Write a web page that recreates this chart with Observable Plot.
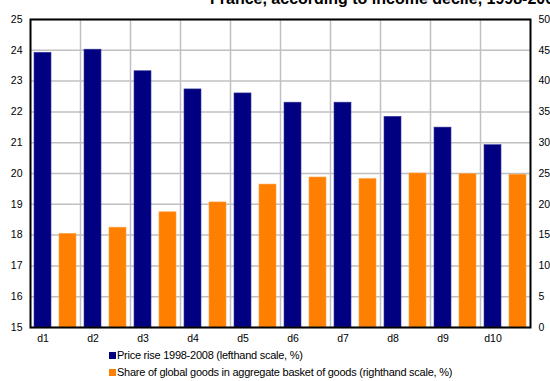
<!DOCTYPE html>
<html>
<head>
<meta charset="utf-8">
<script src="https://cdn.jsdelivr.net/npm/d3@7"></script>
<script src="https://cdn.jsdelivr.net/npm/@observablehq/plot@0.6"></script>
<style>
  html, body { margin: 0; padding: 0; background: #fff; }
  #wrap { position: relative; width: 550px; height: 381px; overflow: hidden; font-family: "Liberation Sans", Arial, sans-serif; }
  #title { position: absolute; left: 210px; top: -9.5px; font-size: 16px; line-height: 16px; font-weight: bold; white-space: nowrap; color: #000; }
  #chart { position: absolute; left: 0; top: 0; }
  .legend { position: absolute; left: 109px; font-size: 11px; letter-spacing: -0.25px; line-height: 12px; white-space: nowrap; color: #000; }
  .legend .sw { display: inline-block; width: 7px; height: 7px; margin-right: 1px; vertical-align: 0px; }
</style>
</head>
<body>
<div id="wrap">
  <div id="title">France, according to income decile, 1998-2008</div>
  <div id="chart"></div>
  <div class="legend" style="top:349px"><span class="sw" style="background:#000080"></span>Price rise 1998-2008 (lefthand scale, %)</div>
  <div class="legend" style="top:366px"><span class="sw" style="background:#ff7f00"></span>Share of global goods in aggregate basket of goods (righthand scale, %)</div>
</div>
<script>
// Income deciles
const deciles = ["d1", "d2", "d3", "d4", "d5", "d6", "d7", "d8", "d9", "d10"];
// Price rise 1998-2008, % (left axis, 15–25)
const priceRise = [23.92, 24.02, 23.32, 22.73, 22.60, 22.30, 22.30, 21.84, 21.49, 20.92];
// Share of global goods in the aggregate basket, % (right axis, 0–50)
const globalShare = [15.2, 16.2, 18.7, 20.3, 23.2, 24.35, 24.1, 25.0, 24.9, 24.8];
// Axis ticks
const leftTicks = d3.range(15, 26, 1);
const rightTicks = d3.range(0, 51, 5);

// The right axis (0–50) is drawn on the left axis' scale (15–25)
const toLeft = v => 15 + v / 5;

const rows = deciles.map((d, i) => ({
  decile: d, i, price: priceRise[i], share: globalShare[i], shareL: toLeft(globalShare[i])
}));

const chart = Plot.plot({
  width: 550,
  height: 345,
  marginTop: 19,
  marginLeft: 30,
  marginRight: 20,
  marginBottom: 18,
  style: { fontFamily: "Liberation Sans, Arial, sans-serif", fontSize: "10.5px", color: "#000", background: "transparent" },
  x: { type: "linear", domain: [0, deciles.length], axis: null, label: null },
  y: { domain: [15, 25], axis: null, label: null },
  marks: [
    Plot.gridY(leftTicks, { stroke: "#c0c0c0", strokeOpacity: 1, strokeWidth: 1.5 }),
    Plot.ruleX(d3.range(1, deciles.length), { stroke: "#c0c0c0", strokeOpacity: 1, strokeWidth: 1.5 }),
    Plot.rectY(rows, { x1: "i", x2: d => d.i + 1, y1: 15, y2: "price", fill: "#000080", stroke: "#3a3a9a", strokeWidth: 0.6, insetLeft: 4, insetRight: 29 }),
    Plot.rectY(rows, { x1: "i", x2: d => d.i + 1, y1: 15, y2: "shareL", fill: "#ff7f00", stroke: "#ffa040", strokeWidth: 0.6, insetLeft: 29, insetRight: 4 }),
    Plot.axisY({ anchor: "left", ticks: leftTicks, tickSize: 0, tickPadding: 8, label: null, tickFormat: d => String(d), fontSize: "10.5px" }),
    Plot.axisY({ anchor: "right", ticks: rightTicks.map(toLeft), tickSize: 0, tickPadding: 8, label: null, tickFormat: t => String(Math.round((t - 15) * 5)), fontSize: "10.5px" }),
    Plot.axisX({ ticks: rows.map(d => d.i + 0.25), tickSize: 0, tickPadding: 7, label: null, tickFormat: (t, k) => deciles[k], fontSize: "10.5px" }),
    Plot.frame({ stroke: "#000", strokeWidth: 2 })
  ]
});
document.getElementById("chart").appendChild(chart);
</script>
</body>
</html>
